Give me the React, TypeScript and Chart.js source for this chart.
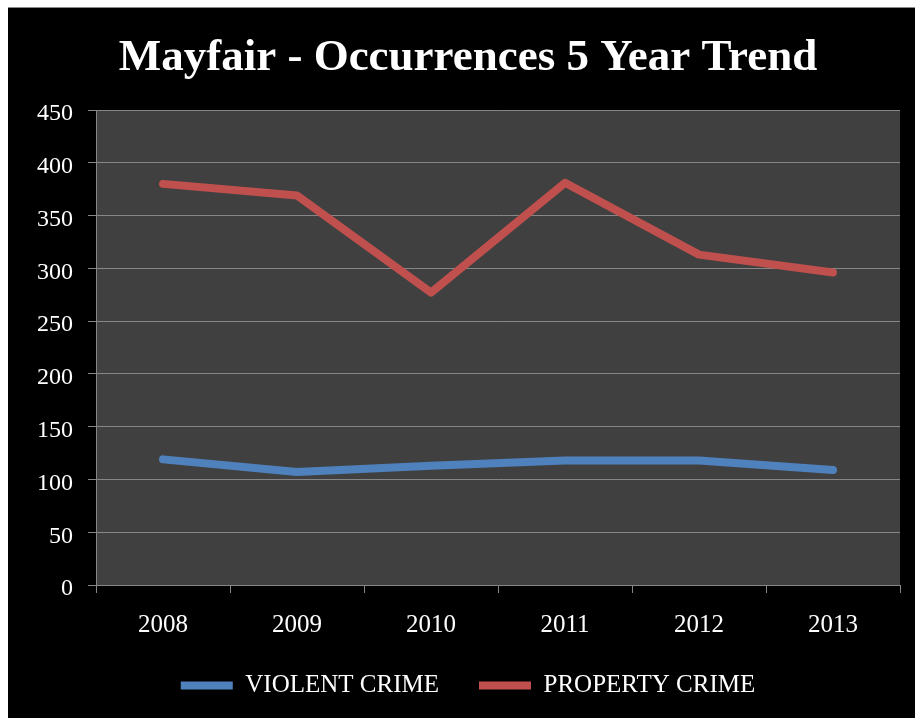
import React, { useEffect, useRef } from "react";
import { Chart, registerables } from "chart.js";

Chart.register(...registerables);

const TITLE = "Mayfair - Occurrences 5 Year Trend";
const YEARS = ["2008", "2009", "2010", "2011", "2012", "2013"];
const VIOLENT_LABEL = "VIOLENT CRIME";
const PROPERTY_LABEL = "PROPERTY CRIME";
const VIOLENT = [119, 107, 113, 118, 118, 109];
const PROPERTY = [380, 369, 277, 381, 313, 296];
const Y_MIN = 0;
const Y_MAX = 450;
const Y_STEP = 50;

const BLUE = "#4F81BD";
const RED = "#C0504D";
const GRID = "#878787";
const FONT = "'Liberation Serif', 'Times New Roman', serif";

export default function App() {
  const ref = useRef<HTMLCanvasElement | null>(null);

  useEffect(() => {
    if (!ref.current) return;
    const plotBg = {
      id: "plotBg",
      beforeDraw(chart: any) {
        const { ctx, chartArea } = chart;
        ctx.save();
        ctx.fillStyle = "#404040";
        ctx.fillRect(chartArea.left, chartArea.top, chartArea.right - chartArea.left, chartArea.bottom - chartArea.top);
        ctx.restore();
      },
    };
    const chart = new Chart(ref.current, {
      type: "line",
      data: {
        labels: YEARS,
        datasets: [
          {
            label: VIOLENT_LABEL,
            data: VIOLENT,
            borderColor: BLUE,
            backgroundColor: BLUE,
            borderWidth: 8,
            borderCapStyle: "round",
            borderJoinStyle: "round",
            pointRadius: 0,
            tension: 0,
          },
          {
            label: PROPERTY_LABEL,
            data: PROPERTY,
            borderColor: RED,
            backgroundColor: RED,
            borderWidth: 8,
            borderCapStyle: "round",
            borderJoinStyle: "round",
            pointRadius: 0,
            tension: 0,
          },
        ],
      },
      options: {
        responsive: false,
        animation: false,
        layout: { padding: { left: 28, right: 31, top: 0, bottom: 10 } },
        plugins: {
          title: {
            display: true,
            text: TITLE,
            color: "#ffffff",
            font: { family: FONT, size: 45, weight: "bold", lineHeight: 1.2 },
            padding: { top: 23, bottom: 25 },
          },
          legend: {
            position: "bottom",
            labels: {
              color: "#ffffff",
              font: { family: FONT, size: 25 },
              boxWidth: 52,
              boxHeight: 8,
              useBorderRadius: true,
              borderRadius: 4,
              padding: 40,
              generateLabels(chart: any) {
                return chart.data.datasets.map((ds: any, i: number) => ({
                  text: ds.label,
                  fillStyle: ds.borderColor,
                  strokeStyle: ds.borderColor,
                  lineWidth: 0,
                  fontColor: "#ffffff",
                  datasetIndex: i,
                  hidden: false,
                }));
              },
            },
          },
          tooltip: { enabled: false },
        },
        scales: {
          x: {
            offset: true,
            afterFit(scale: any) {
              scale.height = 48;
            },
            grid: {
              offset: true,
              drawOnChartArea: false,
              drawTicks: true,
              tickLength: 8,
              tickColor: GRID,
              color: GRID,
            },
            border: { display: true, color: GRID, width: 1 },
            ticks: {
              color: "#ffffff",
              font: { family: FONT, size: 25 },
              padding: 17,
              maxRotation: 0,
            },
          },
          y: {
            min: Y_MIN,
            max: Y_MAX,
            afterFit(scale: any) {
              scale.width = 60;
            },
            grid: {
              color: GRID,
              lineWidth: 1,
              drawTicks: true,
              tickLength: 8,
              tickColor: GRID,
            },
            border: { display: true, color: GRID, width: 1 },
            ticks: {
              stepSize: Y_STEP,
              color: "#ffffff",
              font: { family: FONT, size: 24 },
              padding: 15,
              labelOffset: 4,
            },
          },
        },
      },
      plugins: [plotBg],
    } as any);
    return () => chart.destroy();
  }, []);

  return (
    <div
      style={{
        position: "fixed",
        left: 8,
        top: 7,
        width: 907,
        height: 711,
        overflow: "hidden",
        background: "#000",
        borderTop: "1px solid #8a8a8a",
        boxSizing: "border-box",
      }}
    >
      <canvas ref={ref} width={923} height={710} style={{ display: "block" }} />
    </div>
  );
}
